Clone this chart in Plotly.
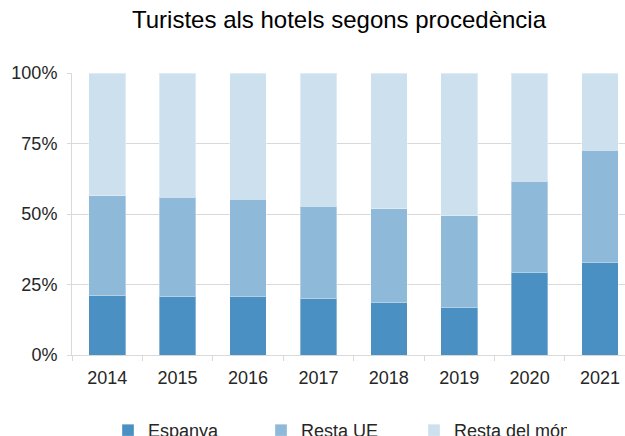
import plotly.graph_objects as go

years = ["2014", "2015", "2016", "2017", "2018", "2019", "2020", "2021"]
espanya = [21.0, 20.6, 20.9, 19.9, 18.7, 17.0, 29.3, 32.9]
resta_ue = [35.5, 35.4, 34.4, 32.9, 33.1, 32.4, 32.3, 39.7]
resta_mon = [43.5, 44.0, 44.7, 47.2, 48.2, 50.6, 38.4, 27.4]

names = ["Espanya", "Resta UE", "Resta del món"]
colors = ["#4a90c2", "#8fb9d9", "#cce0ee"]
series = [espanya, resta_ue, resta_mon]

fig = go.Figure()
for n, c, v in zip(names, colors, series):
    fig.add_trace(go.Bar(
        x=years, y=v, name=n, width=0.52,
        marker=dict(color=c, line=dict(color="rgba(255,255,255,0.35)", width=1)),
    ))

W, H = 625, 436
fnt = "Liberation Sans, Arial, sans-serif"
fig.update_layout(
    barmode="stack",
    width=W, height=H,
    margin=dict(l=72, r=0, t=73, b=H - 355, autoexpand=False),
    paper_bgcolor="white", plot_bgcolor="white",
    font=dict(family=fnt, size=18, color="#262626"),
    title=dict(text="Turistes als hotels segons procedència", x=339 / W, xanchor="center",
               xref="container", y=1 - 20 / H, yanchor="middle", yref="container",
               font=dict(size=24, color="#000000")),
    showlegend=True,
    legend=dict(orientation="h", x=108 / W, xanchor="left", y=1 - 430.5 / H,
                yanchor="middle", yref="container", xref="container",
                entrywidth=108, font=dict(size=18, color="#262626"),
                traceorder="normal", itemclick=False),
)
fig.update_xaxes(
    type="category", range=[-0.5, 7.355], tickson="boundaries", ticks="outside",
    ticklen=5, tickcolor="#d9d9d9", showline=True, linecolor="#d9d9d9", linewidth=1,
    showgrid=False, ticklabelstandoff=6, tickfont=dict(size=18, color="#262626"),
    automargin=False,
)
fig.update_yaxes(
    range=[0, 100], tickvals=[0, 25, 50, 75, 100], ticktext=["0%", "25%", "50%", "75%", "100%"],
    showgrid=True, gridcolor="#d9d9d9", gridwidth=1, ticks="outside", ticklen=4,
    tickcolor="#d9d9d9", showline=True, linecolor="#d9d9d9", linewidth=1,
    zeroline=False, ticklabelstandoff=6, tickfont=dict(size=18, color="#262626"),
    automargin=False,
)
fig.write_html(
    "out.html",
    config={"displayModeBar": False},
    post_script="document.body.style.margin='0';document.body.style.overflow='hidden';"
                "document.documentElement.style.overflow='hidden';",
)
